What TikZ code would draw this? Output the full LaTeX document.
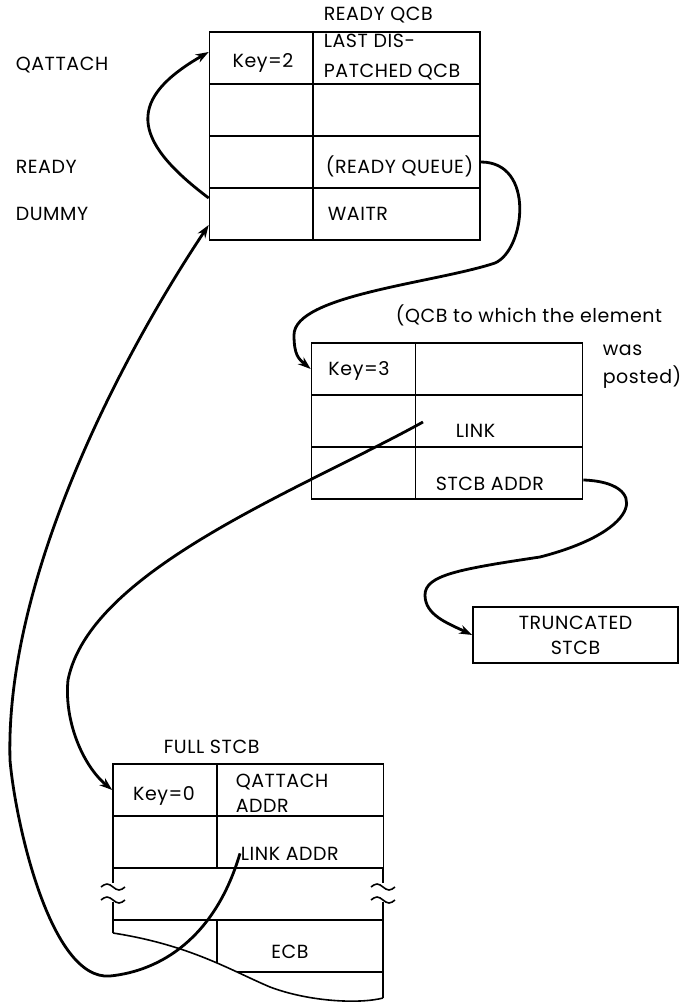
\documentclass[tikz,border=0pt]{standalone}
\usepackage{fontspec}
\setmainfont{Poppins}[LetterSpace=3]
\usetikzlibrary{arrows.meta}

\begin{document}
\begin{tikzpicture}[x=1pt,y=-1pt,line width=1.6pt,font=\fontsize{19}{25}\selectfont,
  cell/.style={draw,minimum width=104pt,minimum height=52pt,inner sep=0pt},
  wcell/.style={cell,minimum width=167pt},
  lbl/.style={inner sep=0pt,anchor=base west,align=left},
  ptr/.style={line width=2.8pt,-{Stealth[length=13pt,width=9pt]}}]
\useasboundingbox (0,0) rectangle (682,1006);
\node[cell] at (261.5,58) (k2) {};
\node[wcell] at (396.5,58) (ldp) {};
\node[cell] at (261.5,110) (r2l) {};
\node[wcell] at (396.5,110) (r2r) {};
\node[cell] at (261.5,162) (r3l) {};
\node[wcell] at (396.5,162) (r3r) {};
\node[cell] at (261.5,214) (r4l) {};
\node[wcell] at (396.5,214) (r4r) {};
\node[lbl] at (323,21) (rqcb) {READY QCB};
\node[lbl] at (15,71) (qat) {QATTACH};
\node[lbl] at (15,173) (rdy) {READY};
\node[lbl] at (15,220) (dmy) {DUMMY};
\node[anchor=base,inner sep=0pt] at (263,68) (key2) {Key=2};
\node[lbl] at (323,78) (last) {LAST DIS-\\[5pt]PATCHED QCB};
\node[lbl] at (325,173) (rq) {(READY QUEUE)};
\node[lbl] at (327,220) (wtr) {WAITR};
\node[cell] at (363.5,369) (k3) {};
\node[wcell] at (499,369) (m1r) {};
\node[cell] at (363.5,421) (m2l) {};
\node[wcell] at (499,421) (m2r) {};
\node[cell] at (363.5,473) (m3l) {};
\node[wcell] at (499,473) (sar) {};
\node[lbl] at (395,322) (note) {(QCB to which the element};
\node[lbl] at (602,355) (was) {was};
\node[lbl] at (602,383) (pst) {posted)};
\node[anchor=base,inner sep=0pt] at (359,375) (key3) {Key=3};
\node[lbl] at (455,437) (lk) {LINK};
\node[lbl] at (435,490) (sa) {STCB ADDR};
\coordinate (lkt) at (423,422);
\node[draw,minimum width=205pt,minimum height=56pt,align=center,inner sep=0pt] at (575.5,635) (tr) {TRUNCATED\\STCB};
\node[lbl] at (163,753) (full) {FULL STCB};
\node[cell] at (165,790) (k0) {};
\node[wcell] at (300,790) (qa) {};
\node[cell] at (165,842) (f2l) {};
\node[wcell] at (300,842) (f2r) {};
\node[anchor=base,inner sep=0pt] at (164,800) (key0) {Key=0};
\node[lbl] at (235,812) (qaa) {QATTACH\\ADDR};
\node[lbl] at (240,860) (lka) {LINK ADDR};
\node[anchor=base,inner sep=0pt] at (290,958) (ecb) {ECB};
\draw (113,868) -- (113,883);
\draw (113,902) -- (113,933);
\draw (383,868) -- (383,883);
\draw (383,902) -- (383,998);
\draw (113,920) -- (383,920);
\draw (217,920) -- (217,963);
\draw (237,972) -- (383,972);
\draw (113,933) .. controls (190,945) and (230,970) .. (270,987) .. controls (310,1002) and (360,1004) .. (383,998);
\foreach \x/\y in {113/887,113/900,383/887,383/900}
  \draw (\x-12,\y) sin (\x-6,\y-3) cos (\x,\y) sin (\x+6,\y+3) cos (\x+12,\y);
\draw[ptr] ([yshift=16pt]r4l.west) .. controls +(-80,-60) and +(-80,46) .. ([yshift=6pt]k2.west);
\draw[ptr] (r3r.east) .. controls +(55,0) and +(30,-13) .. (495,263) .. controls +(-60,20) and +(0,-40) .. (294,335) .. controls +(0,20) and +(-12,-10) .. (k3.west);
\draw[ptr] (lkt) .. controls (300,490) and (90,570) .. (68,680) .. controls +(-4,40) and +(-30,-25) .. (k0.west);
\draw[ptr] ([yshift=-7pt]sar.east) .. controls +(65,2) and +(105,-27) .. (540,557) .. controls +(-80,12) and +(0,-20) .. (425,595) .. controls +(0,20) and +(-25,-12) .. (tr.west);
\draw[ptr] (lka.west) .. controls +(-25,85) and +(50,-5) .. (110,976) .. controls +(-60,5) and +(5,60) .. (10,760) .. controls +(-5,-180) and +(-90,135) .. ([yshift=-11pt]r4l.west);
\end{tikzpicture}
\end{document}
